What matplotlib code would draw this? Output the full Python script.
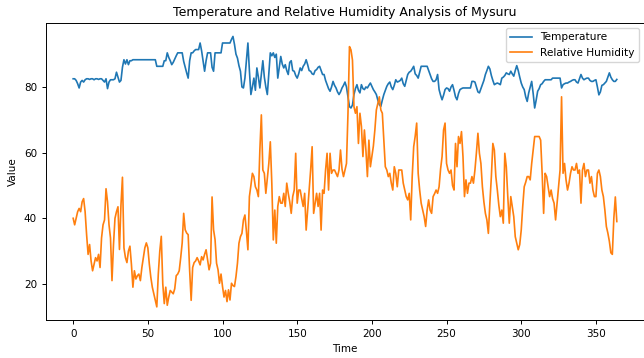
import matplotlib
matplotlib.use("Agg")
import matplotlib.pyplot as plt

# daily readings for Mysuru (index = day)
temperature = [
    82.5, 82.5, 82.0, 81.0, 79.7, 81.5, 82.0, 81.5, 82.2, 82.5,
    82.5, 82.3, 82.5, 82.5, 82.2, 82.5, 82.5, 82.3, 82.5, 82.5,
    82.0, 81.5, 82.5, 79.5, 81.5, 82.2, 82.2, 82.2, 82.5, 84.5,
    83.0, 81.5, 82.0, 86.0, 88.3, 87.0, 88.3, 86.8, 88.0, 88.0,
    88.3, 88.3, 88.3, 88.3, 88.3, 88.3, 88.3, 88.3, 88.3, 88.3,
    88.3, 88.3, 88.3, 88.3, 88.3, 88.3, 86.3, 86.3, 86.3, 86.3,
    86.3, 88.0, 88.0, 90.4, 89.0, 88.0, 86.8, 87.5, 88.5, 89.5,
    90.4, 90.4, 90.4, 90.4, 87.8, 86.0, 84.3, 82.7, 88.0, 90.4,
    90.4, 91.0, 91.4, 91.4, 91.4, 93.4, 91.0, 88.0, 84.8, 88.0,
    90.4, 90.4, 90.4, 86.0, 84.8, 90.4, 90.4, 90.4, 90.4, 90.4,
    93.4, 93.4, 93.4, 93.4, 93.4, 93.4, 94.5, 95.4, 93.0, 90.0,
    88.8, 86.5, 84.8, 80.0, 79.7, 82.7, 88.0, 93.4, 85.0, 77.7,
    80.0, 82.7, 79.0, 85.8, 83.0, 79.7, 84.0, 88.0, 83.0, 80.0,
    77.7, 84.0, 90.4, 89.5, 90.4, 89.0, 90.0, 82.7, 86.0, 89.3,
    87.0, 85.8, 86.8, 85.0, 83.8, 87.5, 88.0, 85.0, 84.8, 83.5,
    82.7, 84.0, 85.8, 85.0, 86.3, 87.0, 88.3, 86.8, 85.0, 84.8,
    84.0, 83.8, 85.0, 85.3, 86.0, 86.3, 85.0, 83.8, 83.8, 82.0,
    80.7, 79.5, 78.7, 80.0, 81.7, 80.5, 79.7, 78.5, 77.7, 78.5,
    79.7, 80.5, 81.5, 80.0, 77.0, 74.0, 73.6, 74.5, 77.7, 79.5,
    80.7, 79.0, 78.2, 80.7, 79.5, 79.2, 80.0, 79.7, 80.5, 81.2,
    80.2, 79.2, 78.5, 77.7, 76.0, 74.6, 74.1, 76.0, 77.7, 79.0,
    80.2, 81.0, 81.5, 80.0, 79.2, 80.5, 82.2, 81.5, 81.7, 82.0,
    82.7, 81.0, 80.2, 82.0, 83.8, 84.5, 84.8, 85.5, 86.3, 84.0,
    83.5, 82.7, 84.5, 86.3, 86.3, 86.3, 86.3, 86.3, 85.0, 83.8,
    82.5, 81.7, 81.7, 82.2, 83.8, 79.2, 77.5, 76.1, 77.5, 79.2,
    79.7, 79.5, 78.7, 80.0, 80.7, 79.0, 77.0, 76.1, 78.0, 79.2,
    79.5, 79.7, 79.7, 79.7, 79.7, 79.7, 79.7, 81.7, 81.7, 81.5,
    80.0, 78.5, 78.2, 79.5, 80.7, 82.0, 83.8, 85.0, 86.3, 85.5,
    83.5, 82.0, 80.7, 81.0, 81.2, 81.0, 80.7, 82.7, 83.0, 83.5,
    84.3, 84.0, 83.8, 84.8, 84.0, 83.3, 85.0, 86.5, 85.0, 83.0,
    81.2, 80.0, 79.2, 77.0, 75.6, 78.2, 80.0, 81.7, 78.0, 73.6,
    76.0, 78.7, 79.5, 80.7, 81.0, 81.7, 82.2, 82.2, 82.2, 82.2,
    82.2, 82.7, 82.7, 82.7, 82.7, 82.7, 82.7, 79.7, 80.7, 81.0,
    81.2, 81.2, 81.5, 81.7, 82.0, 82.2, 82.2, 81.5, 81.2, 82.5,
    83.8, 82.7, 82.2, 82.5, 82.7, 82.7, 82.0, 81.7, 81.7, 82.0,
    82.2, 80.0, 77.6, 78.5, 80.5, 80.7, 81.2, 81.7, 83.0, 84.3,
    83.0, 82.2, 81.7, 81.7, 82.3,
]

humidity = [
    40.0, 38.0, 40.0, 42.0, 43.0, 42.0, 45.0, 46.0, 42.0, 35.0,
    29.0, 32.0, 27.0, 24.0, 26.0, 28.0, 27.0, 29.0, 25.0, 34.0,
    38.0, 39.5, 49.0, 45.0, 38.0, 34.0, 21.0, 32.0, 40.0, 42.0,
    43.5, 30.5, 44.0, 52.5, 31.0, 28.0, 26.5, 30.0, 31.5, 26.0,
    19.0, 24.0, 21.5, 22.5, 23.0, 21.0, 25.0, 28.0, 31.0, 32.5,
    31.0, 26.0, 22.0, 19.0, 17.0, 15.0, 13.0, 23.0, 30.0, 34.5,
    20.0, 14.0, 19.0, 13.5, 16.0, 18.0, 17.5, 17.0, 18.5, 22.5,
    23.0, 24.0, 28.0, 32.5, 41.5, 36.5, 35.5, 35.0, 24.0, 15.0,
    25.0, 26.5, 27.0, 28.0, 27.0, 25.8, 28.3, 27.3, 29.0, 30.4,
    27.3, 24.3, 26.3, 46.5, 36.5, 33.5, 26.3, 24.3, 20.2, 23.0,
    19.2, 16.0, 18.0, 14.6, 18.2, 15.1, 20.2, 19.5, 19.2, 22.2,
    26.3, 32.4, 34.4, 35.4, 39.5, 41.0, 36.0, 30.4, 46.6, 50.0,
    53.7, 52.7, 49.6, 48.6, 46.6, 60.8, 71.5, 54.7, 53.7, 47.6,
    52.0, 56.7, 63.3, 50.7, 33.4, 42.5, 32.4, 43.6, 46.6, 44.6,
    44.6, 47.6, 43.6, 50.7, 47.6, 45.0, 41.5, 46.6, 48.6, 59.8,
    44.6, 48.6, 48.6, 46.0, 43.6, 47.6, 36.4, 42.5, 48.6, 54.7,
    61.8, 41.5, 44.6, 47.6, 43.6, 47.6, 36.4, 48.6, 47.6, 54.7,
    59.8, 48.6, 59.8, 53.7, 54.7, 54.7, 53.7, 52.7, 54.7, 60.8,
    55.0, 52.7, 54.7, 56.7, 72.0, 92.3, 91.3, 88.2, 74.0, 72.0,
    74.0, 62.8, 72.0, 68.0, 58.8, 66.9, 60.8, 52.7, 63.8, 55.7,
    58.8, 62.0, 66.9, 73.0, 75.0, 77.0, 73.0, 72.0, 63.8, 55.7,
    54.7, 52.7, 53.7, 50.7, 48.6, 55.7, 53.7, 49.6, 54.7, 54.7,
    54.7, 50.7, 48.6, 46.6, 45.6, 47.6, 39.5, 52.7, 61.8, 65.0,
    69.0, 53.7, 48.6, 44.6, 42.5, 40.5, 37.5, 42.5, 45.6, 42.5,
    41.5, 46.6, 47.5, 48.6, 47.6, 49.6, 55.0, 58.8, 66.9, 69.0,
    56.7, 54.7, 53.7, 54.7, 50.0, 48.6, 62.8, 55.7, 64.9, 62.8,
    66.4, 58.8, 46.6, 51.7, 47.6, 50.7, 50.7, 52.7, 50.7, 54.7,
    60.0, 65.9, 59.8, 56.7, 49.6, 45.0, 41.5, 39.5, 35.4, 44.6,
    52.7, 62.8, 60.8, 52.7, 48.6, 44.0, 40.5, 42.5, 38.5, 59.8,
    55.7, 46.6, 38.5, 46.6, 43.6, 40.5, 34.4, 32.4, 30.4, 32.0,
    36.4, 43.6, 49.6, 51.0, 52.7, 52.7, 51.7, 56.7, 60.8, 64.9,
    64.9, 64.9, 64.9, 63.8, 53.7, 41.5, 53.7, 52.7, 49.6, 46.6,
    48.6, 46.0, 44.6, 39.5, 44.6, 49.6, 54.7, 77.0, 53.7, 56.7,
    51.7, 48.6, 50.7, 53.7, 55.7, 54.7, 54.7, 56.7, 53.7, 54.7,
    44.6, 54.7, 56.7, 52.7, 54.7, 54.7, 50.7, 52.7, 48.6, 46.6,
    46.6, 53.7, 54.7, 52.7, 48.6, 46.6, 42.5, 37.5, 35.5, 33.0,
    29.5, 29.0, 40.0, 46.5, 39.0,
]

days = list(range(len(temperature)))

fig = plt.figure(figsize=(6.44, 3.58), dpi=100)
ax = fig.add_axes([0.0714, 0.105, 0.9286, 0.831])

ax.plot(days, temperature, label="Temperature", linewidth=1.2)
ax.plot(days, humidity, label="Relative Humidity", linewidth=1.2)

ax.set_title("Temperature and Relative Humidity Analysis of Mysuru", fontsize=9.0, pad=5)
ax.set_xlabel("Time", fontsize=7.5, labelpad=3)
ax.set_ylabel("Value", fontsize=7.5, labelpad=4)
ax.tick_params(labelsize=7.5, length=3, width=0.7)
ax.set_xticks([0, 50, 100, 150, 200, 250, 300, 350])
ax.set_yticks([20, 40, 60, 80])
for s in ax.spines.values():
    s.set_linewidth(0.7)
ax.legend(loc="upper right", fontsize=7.6)

fig.savefig("out.png", dpi=100)
